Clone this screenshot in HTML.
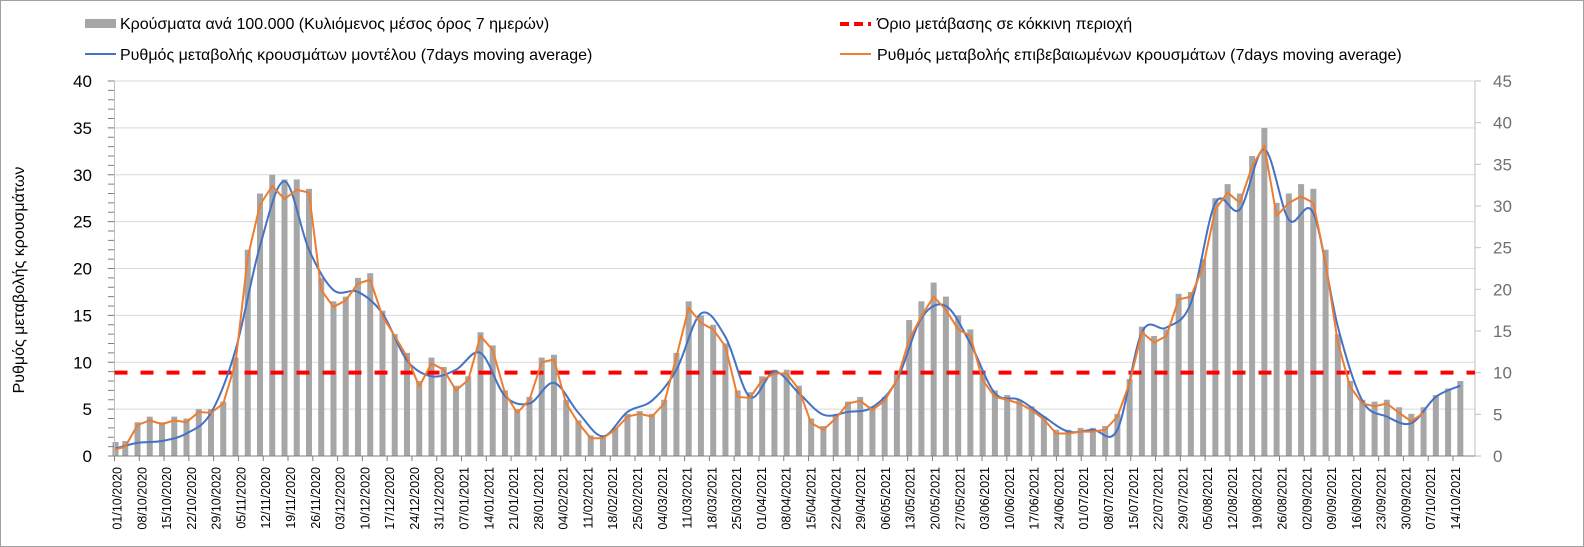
<!DOCTYPE html>
<html><head><meta charset="utf-8"><style>
html,body{margin:0;padding:0;background:#fff;}
svg{display:block;font-family:"Liberation Sans",Arial,sans-serif;}
</style></head><body>
<svg id="chart" width="1584" height="547" viewBox="0 0 1584 547">
<rect x="0.5" y="0.5" width="1583" height="546" fill="#fff" stroke="#a0a0a0"/>
<g id="grid"></g>
<g id="bars"></g>
<g id="axes"></g>
<g id="lines"></g>
<g id="xlabels"></g>
<text transform="translate(24,280) rotate(-90)" text-anchor="middle" font-size="16" fill="#000">Ρυθμός μεταβολής κρουσμάτων</text>
<g font-size="16" fill="#000">
 <g><rect x="85" y="19" width="31" height="9" fill="#a6a6a6"/><text x="120" y="29">Κρούσματα ανά 100.000 (Κυλιόμενος μέσος όρος 7 ημερών)</text></g>
 <g><line x1="840" y1="24" x2="871" y2="24" stroke="#ff0000" stroke-width="4" stroke-dasharray="9,5"/><text x="877" y="29">Όριο μετάβασης σε κόκκινη περιοχή</text></g>
 <g><line x1="85" y1="54" x2="116" y2="54" stroke="#4472c4" stroke-width="2"/><text x="120" y="60">Ρυθμός μεταβολής κρουσμάτων μοντέλου (7days moving average)</text></g>
 <g><line x1="840" y1="54" x2="871" y2="54" stroke="#ed7d31" stroke-width="2"/><text x="877" y="60">Ρυθμός μεταβολής επιβεβαιωμένων κρουσμάτων (7days moving average)</text></g>
</g>
</svg>
<script>
// Confirmed-case rate, sampled every ~3.46 days from 01/10/2020 (left axis units)
const orangeVals = [0.7,1.0,3.3,3.8,3.4,3.8,3.6,4.7,4.6,5.6,9.9,21.2,26.8,28.8,27.4,28.4,28.1,17.7,15.9,16.6,18.4,18.8,14.9,12.8,10.6,7.4,9.9,9.2,7.0,8.1,12.8,11.3,6.7,4.6,6.0,10.0,10.3,5.6,3.5,1.9,1.9,2.8,4.2,4.5,4.2,5.6,10.6,15.8,14.2,13.5,11.7,6.3,6.2,8.1,8.8,8.8,7.1,3.5,2.8,4.0,5.6,5.9,4.9,5.9,8.1,12.4,14.9,17.0,15.6,13.5,12.8,8.1,6.3,6.0,5.6,4.9,3.9,2.4,2.4,2.6,2.6,2.8,4.2,7.8,13.2,12.1,12.8,16.7,17.0,20.2,26.3,28.1,27.0,30.9,33.1,25.6,27.0,27.7,27.0,20.6,12.1,7.4,5.6,5.3,5.6,4.6,3.7,4.6];
// Cases per 100k (7-day avg), same sampling, drawn on left-axis pixel scale
const barVals = [1.5,1.6,3.6,4.2,3.6,4.2,4.0,5.0,5.0,5.8,10.5,22.0,28.0,30.0,29.5,29.5,28.5,19.0,16.5,17.0,19.0,19.5,15.5,13.0,11.0,8.0,10.5,9.5,7.5,8.5,13.2,11.8,7.0,5.0,6.3,10.5,10.8,6.0,3.8,2.2,2.2,3.0,4.5,4.8,4.5,6.0,11.0,16.5,15.0,14.0,12.0,7.0,6.8,8.5,9.2,9.2,7.5,4.0,3.2,4.3,5.8,6.3,5.3,6.3,8.8,14.5,16.5,18.5,17.0,15.0,13.5,8.8,7.0,6.5,6.0,5.3,4.2,2.8,2.8,3.0,3.0,3.2,4.5,8.2,13.8,12.8,13.5,17.3,17.5,21.0,27.5,29.0,28.0,32.0,35.0,27.0,28.0,29.0,28.5,22.0,13.0,8.0,6.0,5.8,6.0,5.2,4.5,5.2,6.5,7.2,8.0];
// Model rate, sampled every ~6.92 days
const blueVals = [0.8,1.4,1.6,2.4,4.6,11.3,22.4,29.3,22.0,17.7,17.5,15.2,10.2,8.5,9.2,11.0,6.4,5.6,7.8,4.6,2.1,4.7,5.9,9.2,15.2,12.7,6.3,9.0,6.7,4.4,4.7,5.2,8.1,14.7,16.0,12.0,6.7,6.0,4.2,2.6,2.8,2.8,13.2,13.7,16.3,27.0,26.3,32.7,25.2,25.9,13.8,5.9,4.2,3.5,6.3,7.5];
const rightTicks = ["0","5","10","15","20","25","30","35","40","45"];
const leftTicks = ["0","5","10","15","20","25","30","35","40"];
const threshold = 10; // right axis units
const weeks = 55;
const sampleStart = -0.42, halfStep = 3.459, weekStep = 6.918; // days

const NS="http://www.w3.org/2000/svg";
const X0=114.5, PXDAY=3.541, Y0=456, Y40=81;
const xDay=d=>X0+d*PXDAY;
const yL=v=>Y0-(Y0-Y40)*v/40;
const yR=v=>Y0-(Y0-Y40)*v/45;
function mk(tag,attrs,parent){const e=document.createElementNS(NS,tag);for(const k in attrs)e.setAttribute(k,attrs[k]);parent.appendChild(e);return e;}
const grid=document.getElementById('grid'),axes=document.getElementById('axes'),bars=document.getElementById('bars'),lines=document.getElementById('lines'),xl=document.getElementById('xlabels');
const XR=1475;
leftTicks.forEach((t,i)=>{const v=+t;const y=yL(v);
 if(v>0){const g=mk('line',{x1:107,y1:y,x2:XR,y2:y,stroke:'#d9d9d9','stroke-width':1},grid);}
 const tx=mk('text',{x:92,y:y+6,'text-anchor':'end','font-size':17,fill:'#000'},axes);tx.textContent=t;
 
 
});
for(let v=0;v<=40;v++){mk('line',{x1:108,y1:yL(v),x2:X0,y2:yL(v),stroke:'#7f7f7f','stroke-width':1},axes);}
rightTicks.forEach(t=>{const y=yR(+t);
 mk('line',{x1:XR,y1:y,x2:XR+6,y2:y,stroke:'#bfbfbf'},axes);
 const tx=mk('text',{x:XR+18,y:y+6,'font-size':17,fill:'#6f6f6f'},axes);tx.textContent=t;
 
 
});
mk('line',{x1:X0,y1:Y40,x2:X0,y2:Y0,stroke:'#bfbfbf'},axes);
mk('line',{x1:XR,y1:Y40,x2:XR,y2:Y0,stroke:'#bfbfbf'},axes);
mk('line',{x1:X0,y1:Y0,x2:XR,y2:Y0,stroke:'#7f7f7f'},axes);
const clampX=x=>Math.max(X0+1,Math.min(x,XR-1));
// bars
barVals.forEach((v,k)=>{const x=clampX(xDay(sampleStart+k*halfStep));const r=mk('rect',{x:x-3,y:yL(v),width:6,height:Y0-yL(v),fill:'#a6a6a6'},bars);
 
 });
// threshold
const th=mk('line',{x1:X0,y1:yR(threshold),x2:XR,y2:yR(threshold),stroke:'#ff0000','stroke-width':4,'stroke-dasharray':'13,13'},lines);


function smooth(pts){let d=`M${pts[0][0]},${pts[0][1]}`;for(let i=0;i<pts.length-1;i++){const p0=pts[i-1]||pts[i],p1=pts[i],p2=pts[i+1],p3=pts[i+2]||p2;
 d+=` C${p1[0]+(p2[0]-p0[0])/6},${p1[1]+(p2[1]-p0[1])/6} ${p2[0]-(p3[0]-p1[0])/6},${p2[1]-(p3[1]-p1[1])/6} ${p2[0]},${p2[1]}`;}return d;}
const bp=mk('path',{d:smooth(blueVals.map((v,k)=>[clampX(xDay(sampleStart+k*weekStep)),yL(v)])),fill:'none',stroke:'#4472c4','stroke-width':2},lines);


const op=mk('path',{d:'M'+orangeVals.map((v,k)=>clampX(xDay(sampleStart+k*halfStep))+','+yL(v)).join(' L'),fill:'none',stroke:'#ed7d31','stroke-width':2,'stroke-linejoin':'round'},lines);


// x labels
const start=new Date(Date.UTC(2020,9,1));
for(let w=0;w<weeks;w++){const dt=new Date(start.getTime()+w*7*86400000);
 const s=String(dt.getUTCDate()).padStart(2,'0')+'/'+String(dt.getUTCMonth()+1).padStart(2,'0')+'/'+dt.getUTCFullYear();
 const x=xDay(w*7);
 mk('line',{x1:x,y1:Y0,x2:x,y2:Y0+5,stroke:'#7f7f7f'},axes);
 const t=mk('text',{transform:`translate(${x+7},${Y0+11}) rotate(-90)`,'text-anchor':'end','font-size':12.5,fill:'#000'},xl);
 t.textContent=s;
 
 
}
</script>
</body></html>
